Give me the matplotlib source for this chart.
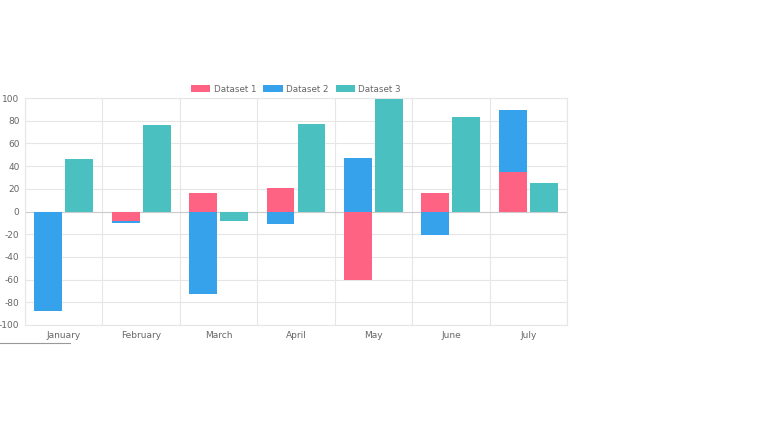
import matplotlib
matplotlib.use("Agg")
import matplotlib.pyplot as plt
import numpy as np

plt.rcParams["axes.unicode_minus"] = False

months = ["January", "February", "March", "April", "May", "June", "July"]
d1 = [0, -8, 16, 21, -60, 16, 35]
d2 = [-88, -2, -73, -11, 47, -21, 54]
d3 = [46, 76, -8, 77, 99, 83, 25]

c1, c2, c3 = "#ff6384", "#36a2eb", "#4bc0c0"

fig = plt.figure(figsize=(7.68, 4.32), dpi=100)
ax = fig.add_axes([25/768, (432-325)/432, (567-25)/768, (325-98)/432])
x = np.arange(len(months))
w = 0.36
off = 0.2

def stack_bottoms(a, b):
    a = np.array(a, float); b = np.array(b, float)
    pos_b = np.where(a > 0, a, 0); neg_b = np.where(a < 0, a, 0)
    return np.where(b >= 0, pos_b, neg_b)

ax.bar(x - off, d1, w, color=c1, label="Dataset 1", zorder=3)
ax.bar(x - off, d2, w, bottom=stack_bottoms(d1, d2), color=c2, label="Dataset 2", zorder=3)
ax.bar(x + off, d3, w, color=c3, label="Dataset 3", zorder=3)

ax.set_xlim(-0.5, len(months) - 0.5)
ax.set_ylim(-100, 100)
ax.set_yticks(range(-100, 101, 20))
ax.set_xticks(x)
ax.set_xticklabels(months)
ax.set_xticks(np.arange(-0.5, len(months)), minor=True)
ax.grid(False)
ax.yaxis.grid(True, color="#e6e6e6", lw=0.8, zorder=0)
ax.xaxis.grid(True, which="minor", color="#e6e6e6", lw=0.8, zorder=0)
ax.axhline(0, color="#cccccc", lw=0.8, zorder=2)
for s in ax.spines.values():
    s.set_color("#e6e6e6")
ax.tick_params(axis="both", which="both", length=0, labelsize=6.5, colors="#666666", pad=4)

leg = ax.legend(loc="lower center", bbox_to_anchor=(0.5, 1.0), ncol=3, frameon=False,
                fontsize=6.3, handlelength=2.2, handleheight=0.9, columnspacing=0.8,
                handletextpad=0.4, borderaxespad=0.1)
for t in leg.get_texts():
    t.set_color("#666666")

fig.lines.append(plt.Line2D([0, 70/768], [1-343/432, 1-343/432], color="#999999", lw=0.8,
                            transform=fig.transFigure))
fig.savefig("out.png", dpi=100)
